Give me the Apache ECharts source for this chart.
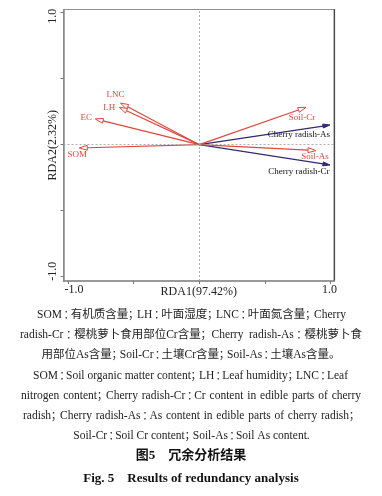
<!DOCTYPE html>
<html>
<head>
<meta charset="utf-8">
<script src="https://cdn.jsdelivr.net/npm/echarts@6/dist/echarts.min.js"></script>
<style>
html,body{margin:0;padding:0;background:#fff;}
#c{width:382px;height:496px;}
</style>
</head>
<body>
<div id="c"></div>
<script>
// ---- data ----
var envNames = ['SOM', 'EC', 'LH', 'LNC', 'Soil-Cr', 'Soil-As'];
var envRDA1 = [-0.914, -0.792, -0.609, -0.600, 0.813, 0.889];
var envRDA2 = [-0.025, 0.195, 0.283, 0.315, 0.283, -0.045];
var respNames = ['Cherry radish-As', 'Cherry radish-Cr'];
var respRDA1 = [0.995, 0.995];
var respRDA2 = [0.149, -0.154];
var xTickValues = [-1, -0.5, 0, 0.5, 1];
var yTickValues = [-1, -0.5, 0, 0.5, 1];
var tickLabelValues = [-1, 1];
var xAxisName = 'RDA1(97.42%)';
var yAxisName = 'RDA2(2.32%)';
var captionLines = [
  'SOM：有机质含量；LH：叶面湿度；LNC：叶面氮含量；Cherry',
  'radish-Cr：樱桃萝卜食用部位Cr含量；Cherry radish-As：樱桃萝卜食',
  '用部位As含量；Soil-Cr：土壤Cr含量；Soil-As：土壤As含量。',
  'SOM：Soil organic matter content；LH：Leaf humidity；LNC：Leaf',
  'nitrogen content；Cherry radish-Cr：Cr content in edible parts of cherry',
  'radish；Cherry radish-As：As content in edible parts of cherry radish；',
  'Soil-Cr：Soil Cr content；Soil-As：Soil As content.'
];
var titleCn = '图5　冗余分析结果';
var titleEn = 'Fig. 5　Results of redundancy analysis';

// ---- styles / layout ----
var RED = '#e2463c';
var BLUE = '#2f2b74';
var SERIF = "'Liberation Serif','Times New Roman','Noto Sans CJK SC',serif";
var PUNCT_FONT = "11px 'Noto Sans CJK JP','Noto Sans CJK SC',sans-serif";
var labelOffsets = {
  'SOM': [-2, 7], 'EC': [-9, -1], 'LH': [-10, 0], 'LNC': [-5, -8],
  'Soil-Cr': [-4, 10], 'Soil-As': [-1, 6],
  'Cherry radish-As': [-31, 10], 'Cherry radish-Cr': [-31, 7]
};
var captionLayout = [ // [left, right, centerY, justify]
  [37, 346, 315, true], [20, 362, 335, true], [37, 345, 355, false],
  [33, 348, 376, true], [21, 361, 396, true], [23, 358, 416, true],
  [73, 310, 436, false]
];
var PUNCT_W = 8;

function makeRender(names, color, hollow, labelColor) {
  return function (params, api) {
    var o = api.coord([0, 0]);
    var t = api.coord([api.value(0), api.value(1)]);
    var ang = Math.atan2(t[1] - o[1], t[0] - o[0]);
    var L = hollow ? 8 : 7, W = hollow ? 5 : 4;
    var c = Math.cos(ang), s = Math.sin(ang);
    var b = [t[0] - L * c, t[1] - L * s];
    var p1 = [b[0] - W / 2 * s, b[1] + W / 2 * c];
    var p2 = [b[0] + W / 2 * s, b[1] - W / 2 * c];
    var name = names[params.dataIndex];
    var off = labelOffsets[name] || [0, 0];
    return {
      type: 'group',
      children: [
        { type: 'line', shape: { x1: o[0], y1: o[1], x2: b[0], y2: b[1] },
          style: { stroke: color, lineWidth: 1.2 } },
        { type: 'polygon', shape: { points: [t, p1, p2] },
          style: { fill: hollow ? '#fff' : color, stroke: color, lineWidth: 1 } },
        { type: 'text', x: t[0] + off[0], y: t[1] + off[1],
          style: { text: name, fill: labelColor, font: '9px ' + SERIF,
                   align: 'center', verticalAlign: 'middle' } }
      ]
    };
  };
}

var envData = envNames.map(function (n, i) { return [envRDA1[i], envRDA2[i]]; });
var respData = respNames.map(function (n, i) { return [respRDA1[i], respRDA2[i]]; });

// caption: runs of words / spaces / CJK punctuation, justified
var ctx = document.createElement('canvas').getContext('2d');
var capFont = '11.5px ' + SERIF;
var graphics = [];
captionLines.forEach(function (text, i) {
  var lay = captionLayout[i];
  var x0 = lay[0], x1 = lay[1], yc = lay[2];
  var runs = [], re = /[：；]|\s+|[^\s：；]+/g, m;
  ctx.font = capFont;
  while ((m = re.exec(text)) !== null) {
    var s = m[0], kind = /^[：；]$/.test(s) ? 'p' : (/^\s+$/.test(s) ? 's' : 'w');
    var w = kind === 'p' ? PUNCT_W : ctx.measureText(s).width;
    runs.push({ s: s, kind: kind, w: w });
  }
  var natural = 0, gaps = 0;
  runs.forEach(function (r) { natural += r.w; if (r.kind !== 'w') gaps++; });
  var extra = 0, start;
  if (lay[3] && gaps > 0) { extra = (x1 - x0 - natural) / gaps; start = x0; }
  else { start = (x0 + x1) / 2 - natural / 2; }
  var x = start;
  runs.forEach(function (r) {
    var w = r.w + (r.kind !== 'w' ? extra : 0);
    if (r.kind === 'w') {
      graphics.push({ type: 'text', x: x, y: yc,
        style: { text: r.s, fill: '#222', font: capFont, verticalAlign: 'middle' } });
    } else if (r.kind === 'p') {
      var semi = r.s === '；';
      graphics.push({ type: 'text', x: semi ? x - 3 : x + w / 2, y: yc,
        style: { text: r.s, fill: '#222', font: PUNCT_FONT,
                 align: semi ? 'left' : 'center', verticalAlign: 'middle' } });
    }
    x += w;
  });
});
graphics.push({ type: 'text', left: 'center', top: 449,
  style: { text: titleCn, fill: '#111', font: 'bold 13px ' + SERIF } });
graphics.push({ type: 'text', left: 'center', top: 472,
  style: { text: titleEn, fill: '#111', font: 'bold 13px ' + SERIF } });

var tickRichX = {
  mn: { fontFamily: SERIF, fontSize: 12, color: '#222', padding: [0, 0, 0, 12] },
  mx: { fontFamily: SERIF, fontSize: 12, color: '#222', padding: [0, 2, 0, 0] }
};
var tickRichY = {
  mn: { fontFamily: SERIF, fontSize: 12, color: '#222', padding: [0, 0, 0, 11] },
  mx: { fontFamily: SERIF, fontSize: 12, color: '#222', padding: [0, 7, 0, 0] }
};
function tickFmt(v) { return (v < 0 ? '{mn|' : '{mx|') + v.toFixed(1) + '}'; }

var chart = echarts.init(document.getElementById('c'));
chart.setOption({
  animation: false,
  backgroundColor: '#fff',
  grid: { left: 63.5, right: 48, top: 9.5, bottom: 215, show: true,
          borderColor: '#8f8f8f', borderWidth: 1 },
  xAxis: {
    type: 'value', min: -1.034, max: 1.026,
    name: xAxisName, nameLocation: 'middle', nameGap: 5, nameMoveOverlap: false,
    nameTextStyle: { fontFamily: SERIF, fontSize: 12, color: '#222', verticalAlign: 'top' },
    axisLine: { show: true, onZero: false, lineStyle: { color: '#8a8a8a', width: 1.5 } },
    axisTick: { show: true, customValues: xTickValues, length: 3, lineStyle: { color: '#777' } },
    axisLabel: { customValues: tickLabelValues, margin: 3, formatter: tickFmt, rich: tickRichX },
    splitLine: { show: false }
  },
  yAxis: [{
    type: 'value', min: -1.033, max: 1.024,
    name: yAxisName, nameLocation: 'middle', nameGap: 5, nameMoveOverlap: false,
    nameTextStyle: { fontFamily: SERIF, fontSize: 12, color: '#222' },
    axisLine: { show: true, onZero: false, lineStyle: { color: '#8a8a8a', width: 1.5 } },
    axisTick: { show: true, customValues: yTickValues, length: 3, lineStyle: { color: '#777' } },
    axisLabel: { customValues: tickLabelValues, margin: 5, rotate: 90, formatter: tickFmt, rich: tickRichY },
    splitLine: { show: false }
  }, {
    type: 'value', min: -1.033, max: 1.024, position: 'right',
    axisLine: { show: true, onZero: false, lineStyle: { color: '#4a4a4a', width: 1.2 } },
    axisTick: { show: false }, axisLabel: { show: false }, splitLine: { show: false }
  }],
  series: [{
    type: 'custom', coordinateSystem: 'cartesian2d', yAxisIndex: 0,
    data: envData, renderItem: makeRender(envNames, RED, true, RED), z: 3,
    markLine: {
      silent: true, symbol: 'none', label: { show: false },
      lineStyle: { color: '#9a9a9a', type: [2, 2], width: 0.8 },
      data: [{ xAxis: 0 }, { yAxis: 0 }]
    }
  }, {
    type: 'custom', coordinateSystem: 'cartesian2d', yAxisIndex: 0,
    data: respData, renderItem: makeRender(respNames, BLUE, false, '#111'), z: 2
  }],
  graphic: graphics
});
</script>
</body>
</html>
